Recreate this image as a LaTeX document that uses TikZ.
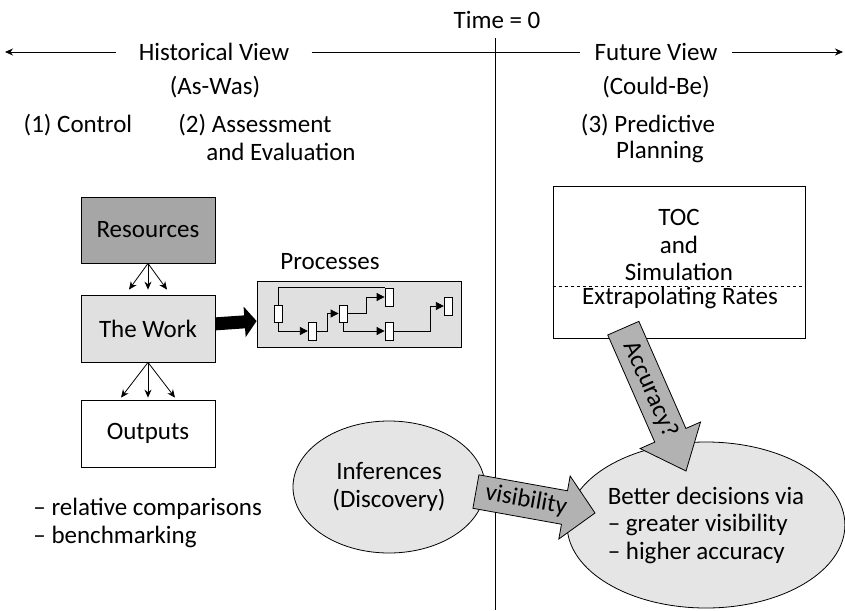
\documentclass[tikz,border=0pt]{standalone}
\usepackage{fontspec}
\setmainfont{Carlito}
\usetikzlibrary{arrows.meta, positioning, shapes.geometric}
\tikzset{
  lbl/.style={inner sep=0pt},
  stage/.style={draw, minimum width=134pt, minimum height=66pt},
  pbox/.style={draw, fill=white, inner sep=0pt, minimum width=8.5pt, minimum height=17pt},
  flow/.style={-{Triangle[length=8pt,width=8pt]}},
  blockarrow/.style={draw, fill=black!30},
  bubble/.style={ellipse, draw, fill=black!10, inner sep=0pt}
}
\begin{document}
\begin{tikzpicture}[x=1pt, y=-1pt, >={Stealth[length=8pt,width=7pt]}, font=\fontsize{25}{27.5}\selectfont, line width=0.8pt]
\useasboundingbox (0,0) rectangle (845,610);
\node[lbl] (time) at (497,20) {Time = 0};
\node[lbl, inner xsep=22pt] (hist) at (214,52) {Historical View};
\node[lbl] (aswas) at (215,87) {(As-Was)};
\node[lbl, inner xsep=14pt] (fut) at (656,52) {Future View};
\node[lbl] (could) at (656,87) {(Could-Be)};
\coordinate (lend) at (5,52);
\coordinate (rend) at (843,52);
\coordinate (ttop) at (495,38);
\coordinate (tbot) at (495,610);
\draw[->] (hist) -- (lend);
\draw (hist) -- (fut);
\draw[->] (fut) -- (rend);
\draw (ttop) -- (tbot);

\node[lbl] (ctrl) at (78,125) {(1) Control};
\node[lbl] (assess) at (255,125) {(2) Assessment};
\node[lbl] (evalu) at (281,152) {and Evaluation};
\node[lbl] (pred) at (648,125) {(3) Predictive};
\node[lbl] (plan) at (660,152) {Planning};

\node[stage, fill=black!35] (res) at (148,230) {Resources};
\node[stage, fill=black!12, minimum height=67pt] (work) at (148,328.5) {The Work};
\node[stage, minimum height=67pt] (outp) at (148,433.5) {Outputs};
\foreach \dx in {-19,0,19}
  \draw[->] (res.south) -- ([xshift=\dx pt, yshift=5pt]work.north);
\foreach \dx in {-27,0,27}
  \draw[->] (work.south) -- ([xshift=\dx pt, yshift=2pt]outp.north);

\node[lbl] (proclbl) at (330,262) {Processes};
\node[draw, fill=black!12, minimum width=204pt, minimum height=66pt, inner sep=0pt] (proc) at (359,314) {};
\draw[line width=13pt, -{Triangle[length=12pt,width=30pt]}] (work) -- (proc);
\node[pbox] (p1) at (278.5,314) {};
\node[pbox, minimum height=18pt] (p2) at (312.5,331) {};
\node[pbox, minimum width=8pt] (p3) at (343,313.5) {};
\node[pbox, minimum width=8pt, minimum height=18pt] (p4) at (389,297) {};
\node[pbox, minimum width=8pt, minimum height=18pt] (p5) at (389,331) {};
\node[pbox, minimum height=18pt] (p6) at (448.5,306) {};
\draw (p1.north) |- (p4.north west);
\draw[flow] (p1.south) |- (p2.west);
\draw[flow] (p2.east) -- ++(10,0) |- (p3.west);
\draw[flow] (p3.east) -- ++(19,0) |- (p4.west);
\draw[flow] (p3.south) |- (p5.west);
\draw[flow] (p5.east) -- ++(37,0) |- (p6.west);

\node[draw, minimum width=252pt, minimum height=152pt, inner sep=0pt] (toc) at (679,262) {};
\node[lbl, align=center] (toctxt) at (679,245) {TOC\\and\\Simulation};
\draw[dashed] ([yshift=-24pt]toc.west) -- ([yshift=-24pt]toc.east);
\node[lbl] (rates) at (680,298) {Extrapolating Rates};

\node[bubble, minimum width=192pt, minimum height=132pt, align=center] (infer) at (389,487) {Inferences\\(Discovery)};
\node[bubble, minimum width=276pt, minimum height=166pt, align=left] (better) at (706,525) {Better decisions via\\-- greater visibility\\-- higher accuracy};

\begin{scope}[shift={(686,471)}, rotate=-66.3]
  \draw[blockarrow] (0,0) -- (-39,33) -- (-39,17) -- (-156,17) -- (-156,-17) -- (-39,-17) -- (-39,-33) -- cycle;
  \node[lbl, rotate=-66.3] (acc) at (-89,0) {Accuracy?};
\end{scope}
\begin{scope}[shift={(595,513)}, rotate=-10.2]
  \draw[blockarrow] (0,0) -- (-31,32) -- (-31,17) -- (-121,17) -- (-121,-17) -- (-31,-17) -- (-31,-32) -- cycle;
  \node[lbl, rotate=-10.2] (vis) at (-70,0) {visibility};
\end{scope}

\node[lbl, align=left, anchor=west] (notes) at (33,523) {-- relative comparisons\\-- benchmarking};
\end{tikzpicture}
\end{document}
